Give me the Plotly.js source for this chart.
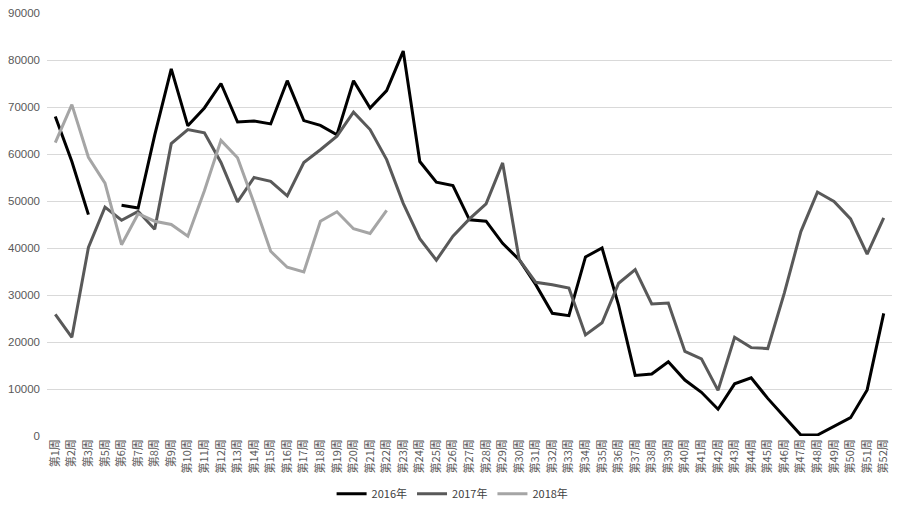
<!DOCTYPE html>
<html>
<head>
<meta charset="utf-8">
<script src="https://cdn.plot.ly/plotly-3.0.1.min.js"></script>
<style>html,body{margin:0;padding:0;background:#fff;}#chart{width:900px;height:509px;}</style>
</head>
<body>
<div id="chart"></div>
<script>
const weeks = ["第1周","第2周","第3周","第5周","第6周","第7周","第8周","第9周","第10周",
  "第11周","第12周","第13周","第14周","第15周","第16周","第17周","第18周","第19周","第20周",
  "第21周","第22周","第23周","第24周","第25周","第26周","第27周","第28周","第29周","第30周",
  "第31周","第32周","第33周","第34周","第35周","第36周","第37周","第38周","第39周","第40周",
  "第41周","第42周","第43周","第44周","第45周","第46周","第47周","第48周","第49周","第50周",
  "第51周","第52周"];

const y2016 = [68000,58400,47100,null,49100,48500,64000,78100,66000,
  69800,75000,66800,67000,66400,75600,67100,66100,64100,75600,
  69800,73500,81900,58400,54000,53300,46000,45700,41000,37500,
  32200,26100,25600,38100,40000,27800,12900,13200,15800,11900,
  9300,5700,11100,12400,8000,4100,200,200,2000,3900,
  9800,26100];

const y2017 = [25900,21000,40100,48700,45900,47800,44000,62200,65200,
  64500,58200,49800,55000,54200,51100,58200,60900,63800,68900,
  65200,58800,49500,42000,37400,42500,46200,49400,58100,37500,
  32700,32200,31500,21500,24100,32500,35400,28100,28300,18000,
  16400,9700,21000,18800,18600,30400,43500,51900,49900,46200,
  38700,46400];

const y2018 = [62400,70500,59300,53800,40700,47300,45700,45000,42500,
  52200,62900,59200,49500,39300,35900,34900,45700,47700,44100,
  43100,48000];

const seriesNames = ["2016年","2017年","2018年"];
const seriesColors = ["#000000","#595959","#a5a5a5"];
const seriesData = [y2016, y2017, y2018];

const traces = seriesData.map((ys, i) => ({
  type: "scatter",
  mode: "lines",
  name: seriesNames[i],
  x: weeks.slice(0, ys.length),
  y: ys,
  connectgaps: false,
  line: {color: seriesColors[i], width: 3, shape: "linear"},
  hoverinfo: "x+y"
}));

const layout = {
  width: 900,
  height: 509,
  margin: {l: 47, r: 8, t: 13, b: 73, autoexpand: false},
  paper_bgcolor: "#ffffff",
  plot_bgcolor: "#ffffff",
  font: {family: "'Noto Sans CJK SC', 'Liberation Sans', sans-serif", size: 11, color: "#595959"},
  showlegend: true,
  legend: {
    orientation: "h",
    x: 0.48, xanchor: "center",
    yref: "container",
    y: 0.03, yanchor: "middle",
    font: {size: 11, color: "#404040"},
    traceorder: "normal",
    itemwidth: 30
  },
  xaxis: {
    type: "category",
    categoryorder: "array",
    categoryarray: weeks,
    range: [-0.5, weeks.length - 0.5],
    tickangle: -90,
    automargin: false,
    showgrid: false,
    zeroline: false,
    showline: false,
    ticks: "",
    tickfont: {size: 11, color: "#595959"},
    fixedrange: true
  },
  yaxis: {
    range: [0, 90000],
    dtick: 10000,
    tickformat: "d",
    automargin: false,
    showgrid: true,
    gridcolor: "#d9d9d9",
    gridwidth: 1,
    zeroline: false,
    showline: false,
    ticks: "",
    ticklabelstandoff: 6,
    tickfont: {family: "'Liberation Sans', sans-serif", size: 11.5, color: "#595959"},
    fixedrange: true
  }
};

Plotly.newPlot("chart", traces, layout, {displayModeBar: false, staticPlot: true});
</script>
</body>
</html>
